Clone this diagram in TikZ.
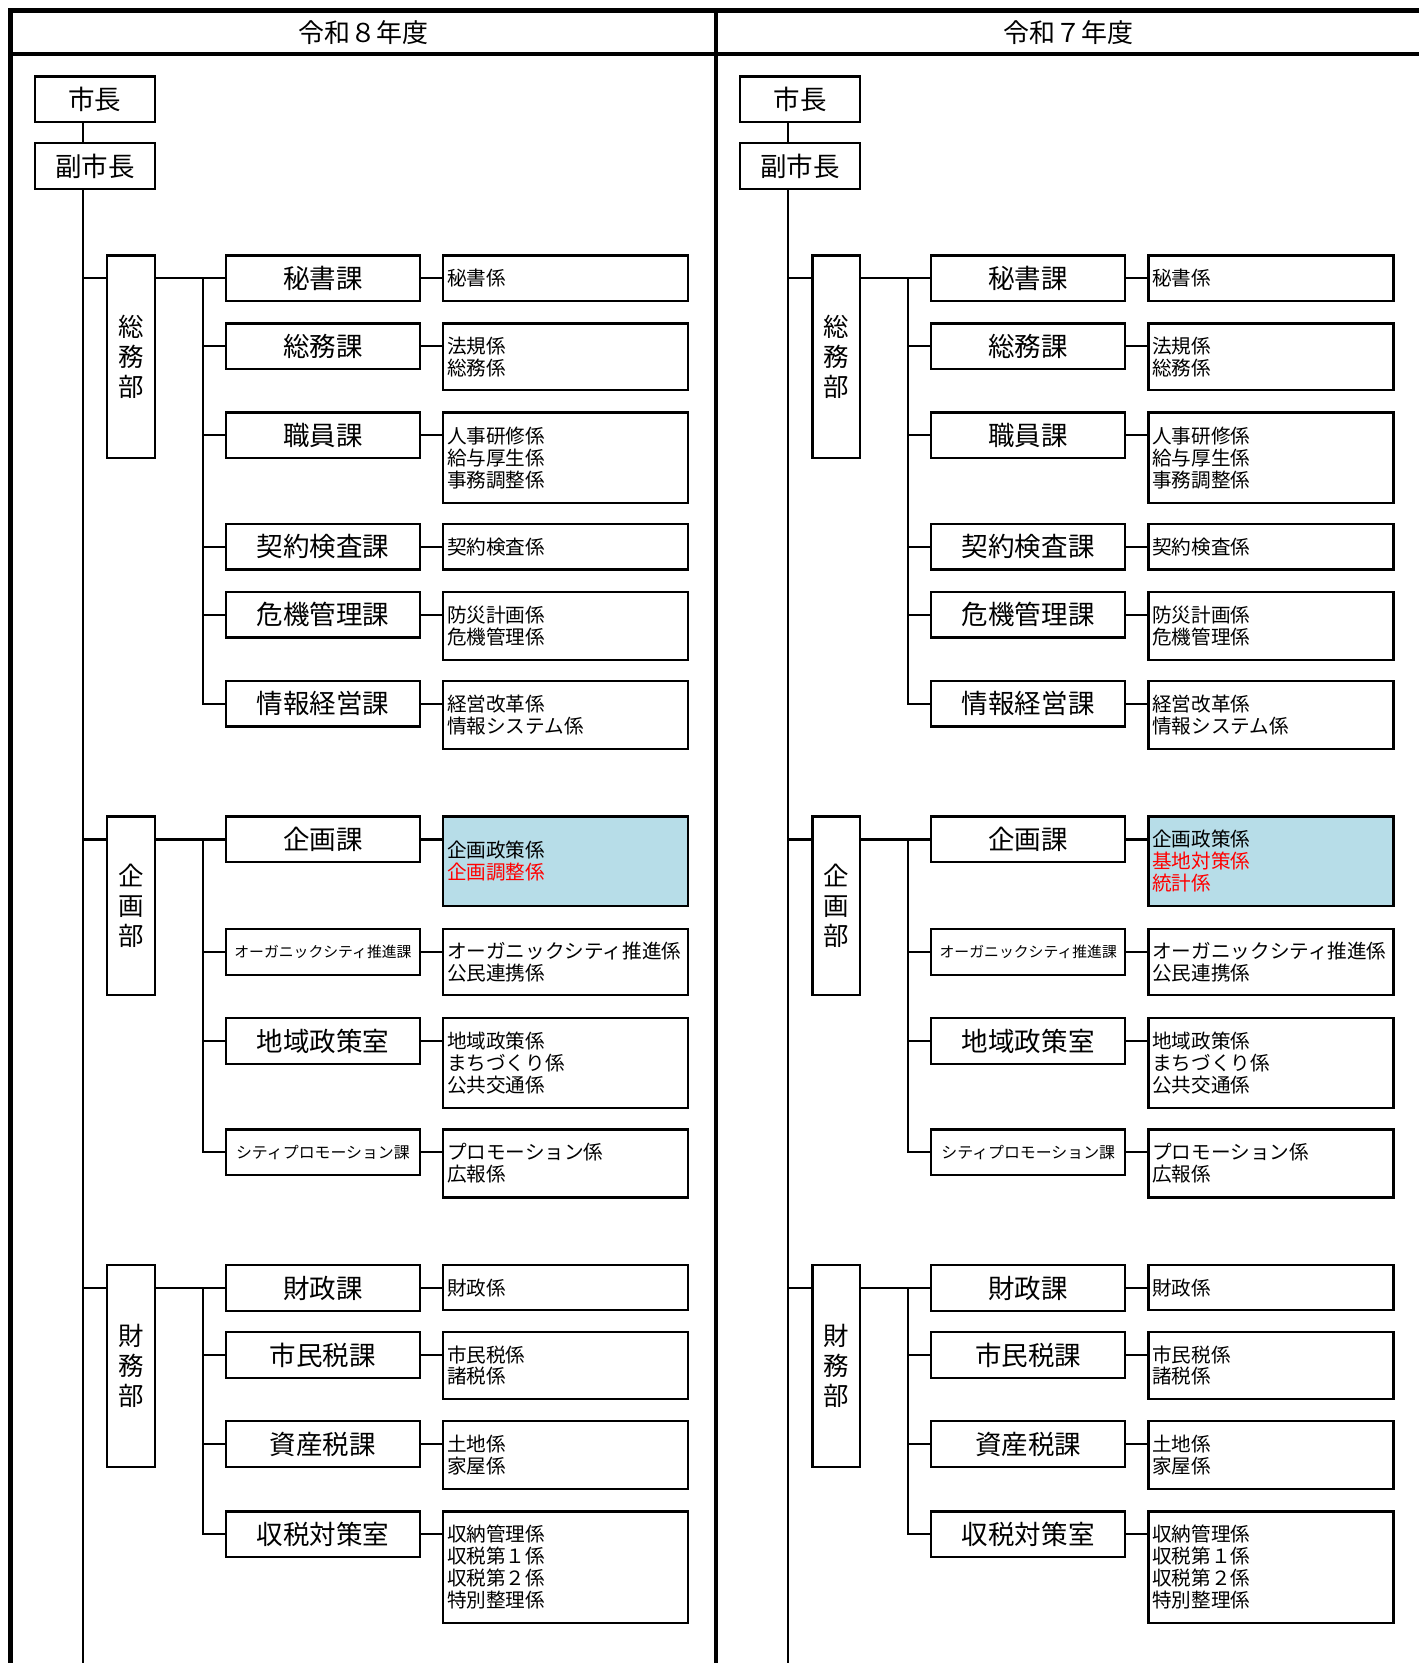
\documentclass[tikz,border=0pt]{standalone}
\usepackage{fontspec}
\setmainfont{Noto Sans CJK JP}
\usepackage{tikz}
\usetikzlibrary{positioning}
\definecolor{kikakublue}{RGB}{183,221,232}

\begin{document}
\begin{tikzpicture}[x=1pt,y=-1pt,line width=2pt,node distance=22pt]
  \tikzstyle{topbox}=[draw,line width=2.2pt,fill=white,inner sep=0pt,outer sep=0pt,anchor=north west,
                      minimum width=113pt,minimum height=43pt,font=\fontsize{25}{28}\selectfont]
  \tikzstyle{bubox}=[draw,line width=2.2pt,inner sep=0pt,outer sep=0pt,anchor=north west,
                     minimum width=45pt,align=center,font=\fontsize{24}{28}\selectfont]
  \tikzstyle{kabox}=[draw,line width=2.2pt,inner sep=0pt,outer sep=0pt,anchor=north west,
                     minimum width=183pt,minimum height=43pt,font=\fontsize{25}{28}\selectfont]
  \tikzstyle{kakari}=[draw,line width=2.2pt,inner xsep=3.5pt,inner ysep=0pt,outer sep=0pt,
                      text width=224pt,align=left,font=\fontsize{18.5}{20.7}\selectfont]
  \tikzstyle{frame}=[line width=4pt]

  \useasboundingbox (0,0) rectangle (1337,1568);

  % outer frame and title row
  \draw[frame] (10,1570) -- (10,10) -- (1340,10);
  \draw[frame] (10,51) -- (1340,51);
  \draw[frame] (675,10) -- (675,1570);

  \foreach \dx/\nendo/\kikakutext in {0/令和８年度/{企画政策係\\\textcolor{red}{企画調整係}},
      665/令和７年度/{企画政策係\\\textcolor{red}{基地対策係}\\\textcolor{red}{統計係}}}{
  \begin{scope}[xshift=\dx pt]
  \node[font=\fontsize{24.5}{28}\selectfont] (nendo) at (342.5,30.5) {\nendo};

  \node[topbox] (mayor) at (33,72)  {市長};
  \node[topbox] (vice)  at (33,135) {副市長};
  \coordinate (spine) at (78,1570);
  \draw (mayor.south -| spine) -- (vice.north -| spine);
  \draw (vice.south -| spine) -- (spine);

  % somu
  \node[bubox,minimum height=191pt] (somubu) at (101,241) {総\\務\\部};
  \node[kabox] (hisho)   at (213,241) {秘書課};
  \node[kabox] (somuka)  at (213,305) {総務課};
  \node[kabox] (shokuin) at (213,389) {職員課};
  \node[kabox] (keiyaku) at (213,494) {契約検査課};
  \node[kabox] (kiki)    at (213,558) {危機管理課};
  \node[kabox] (joho)    at (213,642) {情報経営課};
  \node[kakari,minimum height=43pt,right=of hisho.north east,anchor=north west] (hisho-g) {秘書係};
  \node[kakari,minimum height=63pt,right=of somuka.north east,anchor=north west] (somuka-g) {法規係\\総務係};
  \node[kakari,minimum height=85pt,right=of shokuin.north east,anchor=north west] (shokuin-g) {人事研修係\\給与厚生係\\事務調整係};
  \node[kakari,minimum height=43pt,right=of keiyaku.north east,anchor=north west] (keiyaku-g) {契約検査係};
  \node[kakari,minimum height=64pt,right=of kiki.north east,anchor=north west] (kiki-g) {防災計画係\\危機管理係};
  \node[kakari,minimum height=64pt,right=of joho.north east,anchor=north west] (joho-g) {経営改革係\\情報システム係};
  \draw (somubu.west |- hisho) -- (hisho -| spine);
  \draw (somubu.east |- hisho) -- (hisho.west);
  \draw ([xshift=-22pt]hisho.west) |- (joho.west);
  \foreach \k in {somuka,shokuin,keiyaku,kiki} \draw (\k.west) -- ++(-22,0);
  \foreach \k in {hisho,somuka,shokuin,keiyaku,kiki,joho} \draw (\k.east) -- (\k.east -| \k-g.west);

  % kikaku
  \node[bubox,minimum height=168pt] (kikakubu) at (101,770) {企\\画\\部};
  \node[kabox] (kikaku)  at (213,770)  {企画課};
  \node[kabox,font=\fontsize{14}{16}\selectfont] (organic) at (213,876) {オーガニックシティ推進課};
  \node[kabox] (chiiki)  at (213,960)  {地域政策室};
  \node[kabox,font=\fontsize{15}{16}\selectfont] (promo) at (213,1065) {シティプロモーション課};
  \node[kakari,fill=kikakublue,minimum height=84pt,right=of kikaku.north east,anchor=north west] (kikaku-g) {\kikakutext};
  \node[kakari,minimum height=62pt,right=of organic.north east,anchor=north west] (organic-g) {オーガニックシティ推進係\\公民連携係};
  \node[kakari,minimum height=85pt,right=of chiiki.north east,anchor=north west] (chiiki-g) {地域政策係\\まちづくり係\\公共交通係};
  \node[kakari,minimum height=64pt,right=of promo.north east,anchor=north west] (promo-g) {プロモーション係\\広報係};
  \draw (kikakubu.west |- kikaku) -- (kikaku -| spine);
  \draw (kikakubu.east |- kikaku) -- (kikaku.west);
  \draw ([xshift=-22pt]kikaku.west) |- (promo.west);
  \foreach \k in {organic,chiiki} \draw (\k.west) -- ++(-22,0);
  \foreach \k in {kikaku,organic,chiiki,promo} \draw (\k.east) -- (\k.east -| \k-g.west);

  % zaimu
  \node[bubox,minimum height=190pt] (zaimubu) at (101,1193) {財\\務\\部};
  \node[kabox] (zaisei)    at (213,1193) {財政課};
  \node[kabox] (shiminzei) at (213,1256) {市民税課};
  \node[kabox] (shisanzei) at (213,1340) {資産税課};
  \node[kabox] (shuzei)    at (213,1425) {収税対策室};
  \node[kakari,minimum height=42pt,right=of zaisei.north east,anchor=north west] (zaisei-g) {財政係};
  \node[kakari,minimum height=63pt,right=of shiminzei.north east,anchor=north west] (shiminzei-g) {市民税係\\諸税係};
  \node[kakari,minimum height=64pt,right=of shisanzei.north east,anchor=north west] (shisanzei-g) {土地係\\家屋係};
  \node[kakari,minimum height=105pt,right=of shuzei.north east,anchor=north west] (shuzei-g) {収納管理係\\収税第１係\\収税第２係\\特別整理係};
  \draw (zaimubu.west |- zaisei) -- (zaisei -| spine);
  \draw (zaimubu.east |- zaisei) -- (zaisei.west);
  \draw ([xshift=-22pt]zaisei.west) |- (shuzei.west);
  \foreach \k in {shiminzei,shisanzei} \draw (\k.west) -- ++(-22,0);
  \foreach \k in {zaisei,shiminzei,shisanzei,shuzei} \draw (\k.east) -- (\k.east -| \k-g.west);
  \end{scope}
  }
\end{tikzpicture}
\end{document}
